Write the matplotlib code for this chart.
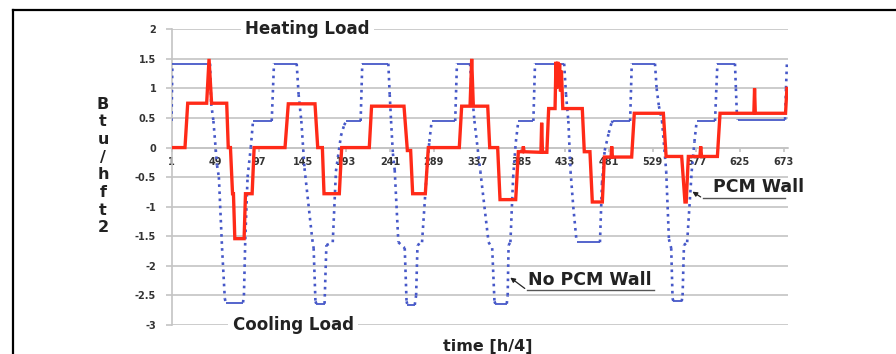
import numpy as np
import matplotlib.pyplot as plt
from matplotlib.collections import LineCollection
from matplotlib.lines import Line2D

plt.rcParams['font.family'] = 'DejaVu Sans'
plt.rcParams['font.weight'] = 'bold'

# time index (quarter hours) and load [Btu/hft2]
pcm_t = [1, 15.8, 18.8, 39.6, 42.2, 45, 61.6, 63.3, 65.7, 68, 69, 70.5, 80.7, 82.2, 89.5, 91.7,
         125.6, 129.2, 158.5, 161.5, 166.6, 168.4, 185.2, 187.8, 218.1, 220.6, 256.2, 259.9,
         263.5, 265.7, 279.6, 282.9, 316.9, 319.5, 328.7, 330.5, 332.3, 348.1, 350.3, 359,
         361.6, 378.8, 381.7, 386.5, 387.2, 388, 406.5, 407.3, 408.2, 413, 415, 422, 423,
         424, 425, 426, 427, 428, 429, 430.5, 451.9, 454.1, 460.3, 462.9, 473.9, 476.1,
         483.5, 484.2, 485, 506.1, 509, 540.9, 543.9, 561, 564.6, 566, 568.3, 581, 581.9,
         582.8, 600.2, 603.1, 640.2, 641, 641.8, 675, 676.5]
pcm_load = [0, 0, 0.75, 0.75, 1.5, 0.75, 0.75, 0, 0, -0.78, -0.78, -1.54, -1.54, -0.78, -0.78, 0,
            0, 0.74, 0.74, 0, 0, -0.78, -0.78, 0, 0, 0.70, 0.70, -0.05,
            -0.05, -0.78, -0.78, 0, 0, 0.70, 0.70, 1.5, 0.70, 0.70, 0, 0,
            -0.88, -0.88, -0.07, -0.07, 0.02, -0.07, -0.08, 0.42, -0.08, -0.08, 0.66, 0.66, 1.45,
            1.0, 1.45, 1.05, 1.42, 0.95, 1.3, 0.66, 0.66, -0.07, -0.07, -0.92, -0.92, -0.16,
            -0.16, 0.02, -0.16, -0.16, 0.58, 0.58, -0.15, -0.15, -0.92, -0.92, -0.15, -0.15, 0.02,
            -0.15, -0.15, 0.58, 0.58, 1.0, 0.58, 0.58, 1.0]

nopcm_t = [1, 2, 43.3, 44.5, 47, 51, 53, 56.5, 59.5, 60.5, 79.5, 80.5, 82, 84.5, 88, 90.5, 111, 113.5,
           138.4, 140.5, 143.5, 147, 155.5, 157, 159, 160, 169, 171, 178, 181.5, 187, 190.5, 193,
           208.6, 210.4,
           239, 240.5, 242, 244, 246, 250, 257, 259, 260, 268, 269.5, 271, 276, 281, 284, 286.6,
           312.4, 314.3,
           328.7, 331, 333.5, 340, 349, 353, 355.5, 356.5, 369, 370, 371, 373, 376, 379, 381.7,
           398.2, 400,
           432, 434, 436.6, 439, 442, 445.7, 471.3, 473.5, 476.5, 481, 484, 485.5, 504.4, 506.2,
           531.7, 533.5, 536, 539.4, 544, 547, 549.5, 551, 552, 561, 562, 563.5, 567, 572, 575,
           577.5, 597.6, 600.2,
           619.5, 620.5, 621.5, 622.5, 674.5, 675.5, 676.5]
nopcm_load = [0.45, 1.42, 1.42, 0.75, 0.45, -0.3, -0.5, -1.7, -2.55, -2.62, -2.62, -2.5, -1.55, -0.5, 0.0, 0.45, 0.45, 1.42,
              1.42, 0.9, 0.45, -0.35, -1.55, -1.7, -2.6, -2.64, -2.64, -1.65, -1.6, -0.4, 0.2, 0.38, 0.45,
              0.45, 1.42,
              1.42, 0.9, 0.45, -0.1, -0.38, -1.6, -1.7, -2.6, -2.66, -2.66, -2.5, -1.65, -1.6, -0.45, 0.1, 0.45,
              0.45, 1.42,
              1.42, 0.9, 0.45, -0.4, -1.6, -1.7, -2.6, -2.64, -2.64, -2.5, -1.65, -1.6, -0.5, 0.1, 0.45,
              0.45, 1.42,
              1.42, 0.9, 0.45, -0.4, -1.0, -1.6, -1.6, -0.6, -0.05, 0.25, 0.42, 0.45, 0.45, 1.42,
              1.42, 1.0, 0.7, 0.45, -0.4, -1.55, -1.7, -2.55, -2.6, -2.6, -2.5, -1.65, -1.6, -0.4, 0.1,
              0.45, 0.45, 1.42,
              1.42, 1.0, 0.6, 0.47, 0.47, 1.0, 1.42]

xtick_pos = [1, 49, 97, 145, 193, 241, 289, 337, 385, 433, 481, 529, 577, 625, 673]
ytick_pos = [-3, -2.5, -2, -1.5, -1, -0.5, 0, 0.5, 1, 1.5, 2]
ytick_lab = ['-3', '-2.5', '-2', '-1.5', '-1', '-0.5', '0', '0.5', '1', '1.5', '2']

W, H = 896, 354
fig = plt.figure(figsize=(W / 100, H / 100), dpi=100)
ax = fig.add_axes([171.5 / W, 1 - 325 / H, (788 - 171.5) / W, (325 - 29.3) / H])

grid_c = '#c4c4c4'
ax.set_xlim(1, 677.7)
ax.set_ylim(-3, 2)
ax.set_yticks(ytick_pos)
ax.set_yticklabels(ytick_lab)
ax.set_xticks(xtick_pos)
ax.set_xticklabels([str(v) for v in xtick_pos])
ax.grid(axis='y', color=grid_c, lw=1.2)
ax.set_axisbelow(True)
for s in ['top', 'right']:
    ax.spines[s].set_visible(False)
ax.spines['left'].set_color(grid_c)
ax.spines['left'].set_linewidth(1.2)
ax.spines['bottom'].set_position(('data', 0))
ax.spines['bottom'].set_color(grid_c)
ax.spines['bottom'].set_linewidth(1.2)
ax.tick_params(axis='y', length=4, color=grid_c, width=1.2, pad=7, labelsize=7, labelcolor='#333333')
ax.tick_params(axis='x', length=3, color=grid_c, width=1.2, pad=4, labelsize=7, labelcolor='#333333')

# no PCM wall: solid on flat parts, dotted on transitions
pts = np.column_stack([nopcm_t, nopcm_load])
segs = np.stack([pts[:-1], pts[1:]], axis=1)
flat = np.isclose(np.diff(nopcm_load), 0)
styles = ['solid' if f else (0, (1, 1.7)) for f in flat]
widths = [1.3 if f else 1.9 for f in flat]
lc = LineCollection(segs, colors='#4658c8', linewidths=widths, linestyles=styles, zorder=3)
ax.add_collection(lc)

ax.plot(pcm_t, pcm_load, color='#ff2a18', lw=2.4, zorder=4, solid_joinstyle='miter')

# labels sitting on the top and bottom grid lines
ax.text(150.3, 2, 'Heating Load', ha='center', va='center',
        fontsize=12, fontweight='bold', color='#222222',
        bbox=dict(facecolor='white', edgecolor='none', pad=3))
ax.text(134.4, -3, 'Cooling Load', ha='center', va='center',
        fontsize=12, fontweight='bold', color='#222222',
        bbox=dict(facecolor='white', edgecolor='none', pad=3))

# callouts
ax.text(595.5, -0.67, 'PCM Wall', ha='left', va='center', fontsize=12.5, fontweight='bold', color='#222222')
ax.plot([584.4, 674.4], [-0.86, -0.86], color='#555555', lw=1, zorder=2)
ax.annotate('', xy=(570.2, -0.72), xytext=(584.4, -0.86),
            arrowprops=dict(arrowstyle='-|>', color='#222222', lw=0.9, mutation_scale=7))
ax.text(392.5, -2.24, 'No PCM Wall', ha='left', va='center', fontsize=12.5, fontweight='bold', color='#222222')
ax.plot([391.2, 530.6], [-2.41, -2.41], color='#555555', lw=1, zorder=2)
ax.annotate('', xy=(370.4, -2.17), xytext=(391.2, -2.41),
            arrowprops=dict(arrowstyle='-|>', color='#222222', lw=0.9, mutation_scale=7))

fig.text(487.5 / W, 1 - 346 / H, 'time [h/4]', ha='center', va='center', fontsize=11.5,
         fontweight='bold', color='#222222')
fig.text(103 / W, 1 - 166 / H, '\n'.join('Btu/hft2'), ha='center', va='center', fontsize=11.5,
         fontweight='bold', color='#222222', linespacing=1.22)

# outer frame of the original figure (cut at right and bottom)
fig.add_artist(Line2D([13 / W, 13 / W], [0, 1 - 10 / H], color='black', lw=1.6))
fig.add_artist(Line2D([13 / W, 1], [1 - 10 / H, 1 - 10 / H], color='black', lw=1.6))

fig.savefig('out.png', dpi=100)
